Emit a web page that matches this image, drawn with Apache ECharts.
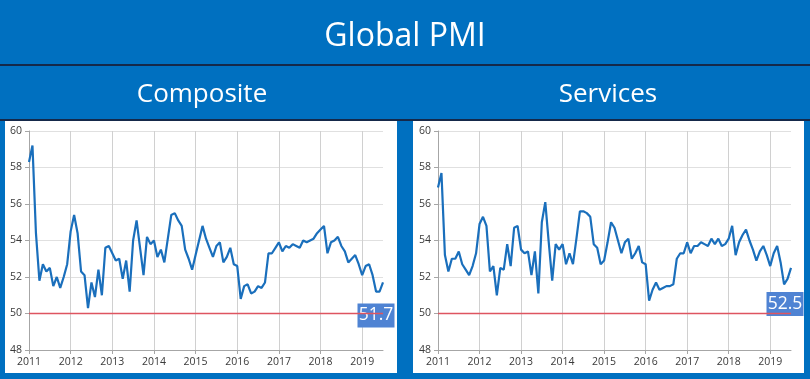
<!DOCTYPE html>
<html><head><meta charset="utf-8">
<script src="https://cdn.jsdelivr.net/npm/echarts@6/dist/echarts.min.js"></script>
<style>html,body{margin:0;padding:0;background:#0070C0;}#c{width:810px;height:379px;}</style>
</head><body><div id="c"></div>
<script>
// ---- data ----
const mainTitle = 'Global PMI';
const panelTitles = ['Composite', 'Services'];
const startYear = 2011, endYear = 2019, endMonth = 7;
const months = [];
for (let y = startYear; y <= endYear; y++) {
  for (let m = 1; m <= 12; m++) {
    if (y === endYear && m > endMonth) break;
    months.push(y + '-' + String(m).padStart(2, '0'));
  }
}
const composite = [
  58.3, 59.2, 54.4, 51.8, 52.7, 52.3, 52.5, 51.5, 52.0, 51.4, 52.0, 52.7,
  54.5, 55.4, 54.4, 52.3, 52.1, 50.3, 51.7, 50.9, 52.4, 51.0, 53.6, 53.7,
  53.3, 52.9, 53.0, 51.9, 52.9, 51.2, 54.0, 55.1, 53.6, 52.1, 54.2, 53.8,
  54.0, 53.1, 53.5, 52.8, 54.1, 55.4, 55.5, 55.1, 54.8, 53.5, 53.0, 52.4,
  53.2, 54.0, 54.8, 54.1, 53.6, 53.1, 53.7, 53.9, 52.8, 53.1, 53.6, 52.7,
  52.6, 50.8, 51.5, 51.6, 51.1, 51.2, 51.5, 51.4, 51.7, 53.3, 53.3, 53.6,
  53.9, 53.4, 53.7, 53.6, 53.8, 53.7, 53.6, 54.0, 53.9, 54.0, 54.1, 54.4,
  54.6, 54.8, 53.3, 53.9, 54.0, 54.2, 53.7, 53.4, 52.8, 53.0, 53.2, 52.7,
  52.1, 52.6, 52.7, 52.1, 51.2, 51.2, 51.7
];
const services = [
  56.9, 57.7, 53.2, 52.3, 53.0, 53.0, 53.4, 52.7, 52.4, 52.1, 52.6, 53.3,
  54.9, 55.3, 54.8, 52.3, 52.6, 51.0, 52.5, 52.4, 53.8, 52.6, 54.7, 54.8,
  53.5, 53.3, 53.4, 52.1, 53.4, 51.1, 55.0, 56.1, 53.9, 51.8, 53.8, 53.5,
  53.8, 52.7, 53.3, 52.7, 54.1, 55.6, 55.6, 55.5, 55.3, 53.8, 53.6, 52.7,
  52.9, 53.9, 55.0, 54.7, 54.0, 53.3, 53.9, 54.1, 53.0, 53.3, 53.7, 52.8,
  52.7, 50.7, 51.3, 51.7, 51.3, 51.4, 51.5, 51.5, 51.6, 53.0, 53.3, 53.3,
  53.9, 53.3, 53.7, 53.7, 53.9, 53.8, 53.7, 54.1, 53.8, 54.1, 53.7, 53.8,
  54.1, 54.8, 53.2, 53.9, 54.3, 54.6, 54.0, 53.5, 52.9, 53.4, 53.7, 53.2,
  52.6, 53.3, 53.7, 52.8, 51.6, 51.9, 52.5
];
const yMin = 48, yMax = 60, yStep = 2;
const threshold = 50;

// ---- chart ----
const FONT = '"Open Sans", sans-serif';
const chart = echarts.init(document.getElementById('c'));
const isJan = (i, v) => String(v).endsWith('-01');
const grids = [
  { left: 29, top: 131, width: 354, height: 219 },
  { left: 438, top: 131, width: 353, height: 219 }
];
const seriesData = [composite, services];
const boxOffsets = [[-7, 33], [-6, 36]];
const lastMonth = months[months.length - 1];

const xAxes = grids.map((g, k) => ({
  type: 'category', gridIndex: k, data: months, boundaryGap: false,
  axisLine: { onZero: false, lineStyle: { color: '#A6A6A6', width: 1 } },
  axisTick: { show: true, interval: isJan, length: 4, lineStyle: { color: '#A6A6A6' } },
  axisLabel: { interval: isJan, formatter: v => v.slice(0, 4), color: '#3A3A3A', fontSize: 10.5, fontFamily: FONT, margin: 7 },
  splitLine: { show: true, interval: isJan, lineStyle: { color: '#D0D0D0', width: 1 } }
}));
const yAxes = grids.map((g, k) => ({
  type: 'value', gridIndex: k, min: yMin, max: yMax, interval: yStep,
  axisLine: { show: true, lineStyle: { color: '#A6A6A6', width: 1 } },
  axisTick: { show: true, length: 4, lineStyle: { color: '#A6A6A6' } },
  axisLabel: { color: '#3A3A3A', fontSize: 10.5, fontFamily: FONT, margin: 7 },
  splitLine: { show: true, lineStyle: { color: '#E0E0E0', width: 1 } }
}));
const series = [];
seriesData.forEach((d, k) => {
  series.push({
    type: 'line', xAxisIndex: k, yAxisIndex: k, data: d,
    showSymbol: false, symbol: 'none', z: 3,
    lineStyle: { color: '#1A6FBC', width: 2.2 },
    markPoint: {
      silent: true,
      data: [{ coord: [lastMonth, d[d.length - 1]], value: d[d.length - 1] }],
      symbol: 'rect', symbolSize: [37, 24], symbolOffset: boxOffsets[k],
      itemStyle: { color: '#4F83D3' },
      label: {
        show: true, position: 'inside',
        formatter: p => Number(p.value).toFixed(1),
        color: '#FFFFFF', fontSize: 17.5, fontFamily: FONT
      }
    }
  });
  series.push({
    type: 'line', xAxisIndex: k, yAxisIndex: k,
    data: [[months[0], threshold], [lastMonth, threshold]],
    showSymbol: false, symbol: 'none', z: 20,
    color: '#DE5560',
    lineStyle: { color: '#DE5560', width: 1.4 }
  });
});

chart.setOption({
  backgroundColor: '#0070C0',
  animation: false,
  graphic: [
    { type: 'rect', shape: { x: 0, y: 64, width: 810, height: 2 }, style: { fill: '#15294A' }, silent: true },
    { type: 'rect', shape: { x: 0, y: 119, width: 810, height: 2 }, style: { fill: '#15294A' }, silent: true },
    { type: 'rect', shape: { x: 5, y: 121, width: 392, height: 252 }, style: { fill: '#FFFFFF' }, silent: true, z: -10 },
    { type: 'rect', shape: { x: 413, y: 121, width: 391, height: 252 }, style: { fill: '#FFFFFF' }, silent: true, z: -10 },
    { type: 'text', x: 405, y: 37, style: { text: mainTitle, fill: '#FFFFFF', font: '32px ' + FONT, textAlign: 'center', textVerticalAlign: 'middle' } },
    { type: 'text', x: 202, y: 95, style: { text: panelTitles[0], fill: '#FFFFFF', font: '26px ' + FONT, textAlign: 'center', textVerticalAlign: 'middle' } },
    { type: 'text', x: 608, y: 95, style: { text: panelTitles[1], fill: '#FFFFFF', font: '26px ' + FONT, textAlign: 'center', textVerticalAlign: 'middle' } }
  ],
  grid: grids,
  xAxis: xAxes,
  yAxis: yAxes,
  series: series
});
</script>
</body></html>
